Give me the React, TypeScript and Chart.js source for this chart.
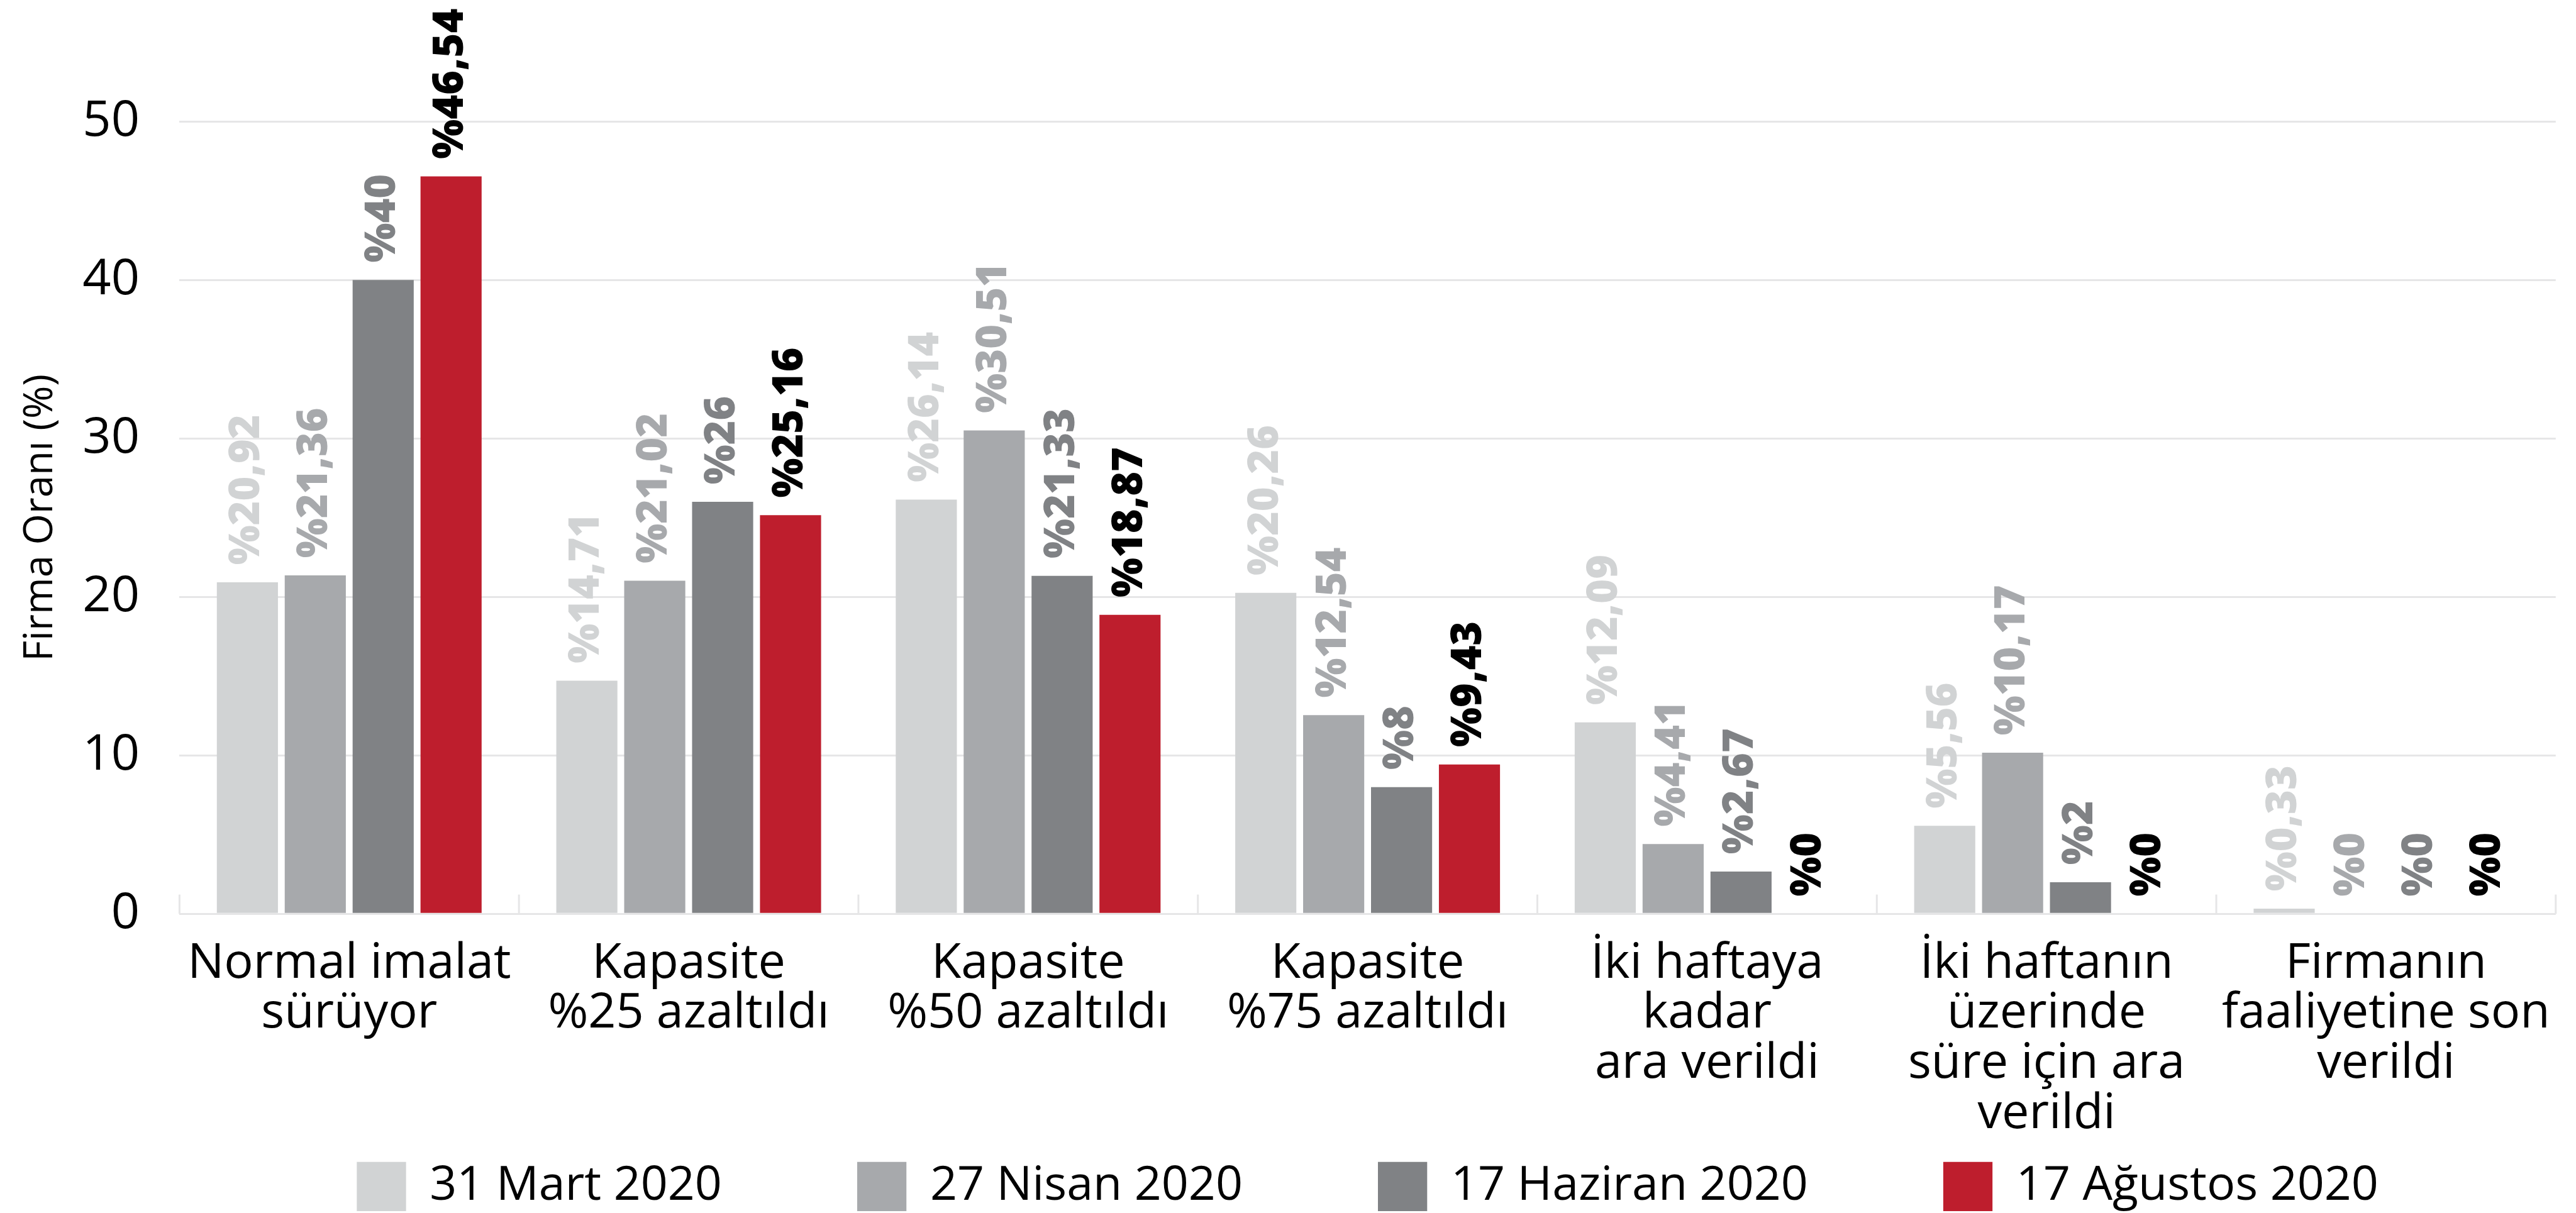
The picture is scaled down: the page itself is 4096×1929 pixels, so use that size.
import React, { useEffect, useRef } from "react";
import { Chart, registerables } from "chart.js";

Chart.register(...registerables);

const S = 0.991;
const px = (v: number) => v * S;
const W = 4096;
const H = 1929;
const FONT = "'Open Sans', 'Noto Sans', sans-serif";

const categories: string[][] = [
  ["Normal imalat", "sürüyor"],
  ["Kapasite", "%25 azaltıldı"],
  ["Kapasite", "%50 azaltıldı"],
  ["Kapasite", "%75 azaltıldı"],
  ["İki haftaya", "kadar", "ara verildi"],
  ["İki haftanın", "üzerinde", "süre için ara", "verildi"],
  ["Firmanın", "faaliyetine son", "verildi"],
];

const seriesNames = ["31 Mart 2020", "27 Nisan 2020", "17 Haziran 2020", "17 Ağustos 2020"];
const mart = [20.92, 14.71, 26.14, 20.26, 12.09, 5.56, 0.33];
const nisan = [21.36, 21.02, 30.51, 12.54, 4.41, 10.17, 0];
const haziran = [40, 26, 21.33, 8, 2.67, 2, 0];
const agustos = [46.54, 25.16, 18.87, 9.43, 0, 0, 0];
const seriesValues = [mart, nisan, haziran, agustos];

const barColors = ["#D1D3D4", "#A7A9AC", "#808285", "#BE1E2D"];
const labelColors = ["#D1D3D4", "#A7A9AC", "#808285", "#000000"];

const yTicks = [0, 10, 20, 30, 40, 50];

const valueLabels = {
  id: "valueLabels",
  afterDatasetsDraw(chart: any) {
    const ctx = chart.ctx;
    chart.data.datasets.forEach((ds: any, di: number) => {
      const meta = chart.getDatasetMeta(di);
      meta.data.forEach((bar: any, i: number) => {
        const v = ds.data[i];
        ctx.save();
        ctx.translate(bar.x, bar.y - px(28));
        ctx.rotate(-Math.PI / 2);
        ctx.font = `800 ${px(67)}px ${FONT}`;
        ctx.fillStyle = labelColors[di];
        ctx.textAlign = "left";
        ctx.textBaseline = "middle";
        ctx.fillText("%" + String(v).replace(".", ","), 0, 0);
        ctx.restore();
      });
    });
  },
};

const categoryTicks = {
  id: "categoryTicks",
  beforeDraw(chart: any) {
    // let the multi-line category labels extend below the (shortened) x-axis box
    const xs = chart.scales.x;
    if (xs) xs._computeLabelArea = () => undefined;
  },
  beforeDatasetsDraw(chart: any) {
    const { ctx, chartArea } = chart;
    const n = chart.data.labels.length;
    const step = (chartArea.right - chartArea.left) / n;
    ctx.save();
    ctx.strokeStyle = "#E6E6E7";
    ctx.lineWidth = px(3);
    for (let i = 0; i <= n; i++) {
      const x = chartArea.left + i * step;
      ctx.beginPath();
      ctx.moveTo(x, chartArea.bottom);
      ctx.lineTo(x, chartArea.bottom - px(31));
      ctx.stroke();
    }
    ctx.restore();
  },
};

export default function App() {
  const ref = useRef<HTMLCanvasElement | null>(null);

  useEffect(() => {
    if (!ref.current) return;
    const chart = new Chart(ref.current, {
      type: "bar",
      data: {
        labels: categories as any,
        datasets: seriesValues.map((vals, i) => ({
          label: seriesNames[i],
          data: vals,
          backgroundColor: barColors[i],
          borderWidth: 0,
          categoryPercentage: 0.8,
          barPercentage: 0.9,
        })),
      },
      options: {
        responsive: false,
        animation: false,
        devicePixelRatio: 1,
        font: { family: FONT },
        layout: { padding: { top: px(195), right: px(23), left: 0, bottom: 0 } },
        plugins: {
          legend: {
            position: "bottom",
            fullSize: false,
            maxHeight: px(299),
            labels: {
              boxWidth: px(79),
              boxHeight: px(79),
              padding: px(217),
              color: "#000",
              font: { size: px(76), family: FONT },
            },
          },
          tooltip: { enabled: false },
        },
        scales: {
          x: {
            grid: { display: false, drawTicks: false },
            border: { display: false },
            ticks: {
              color: "#000",
              font: { size: px(78), lineHeight: 1.03, family: FONT },
              padding: px(40),
              maxRotation: 0,
              minRotation: 0,
              autoSkip: false,
            },
            afterFit: (s: any) => {
              s.height = px(181);
            },
          },
          y: {
            min: yTicks[0],
            max: yTicks[yTicks.length - 1],
            afterBuildTicks: (s: any) => {
              s.ticks = yTicks.map((v) => ({ value: v }));
            },
            ticks: {
              color: "#000",
              font: { size: px(80), family: FONT },
              padding: px(64),
            },
            grid: { color: "#E6E6E7", lineWidth: px(3), drawTicks: false },
            border: { display: false },
            title: {
              display: true,
              text: "Firma Oranı (%)",
              color: "#000",
              font: { size: px(64), family: FONT },
              padding: { top: px(27), bottom: 0 },
            },
            afterFit: (s: any) => {
              s.width = px(288);
            },
          },
        },
      } as any,
      plugins: [valueLabels, categoryTicks],
    });
    return () => chart.destroy();
  }, []);

  return (
    <div style={{ position: "absolute", left: 0, top: 0, width: W, height: H, background: "#fff" }}>
      <canvas ref={ref} width={W} height={H} style={{ display: "block", width: W, height: H }} />
    </div>
  );
}
